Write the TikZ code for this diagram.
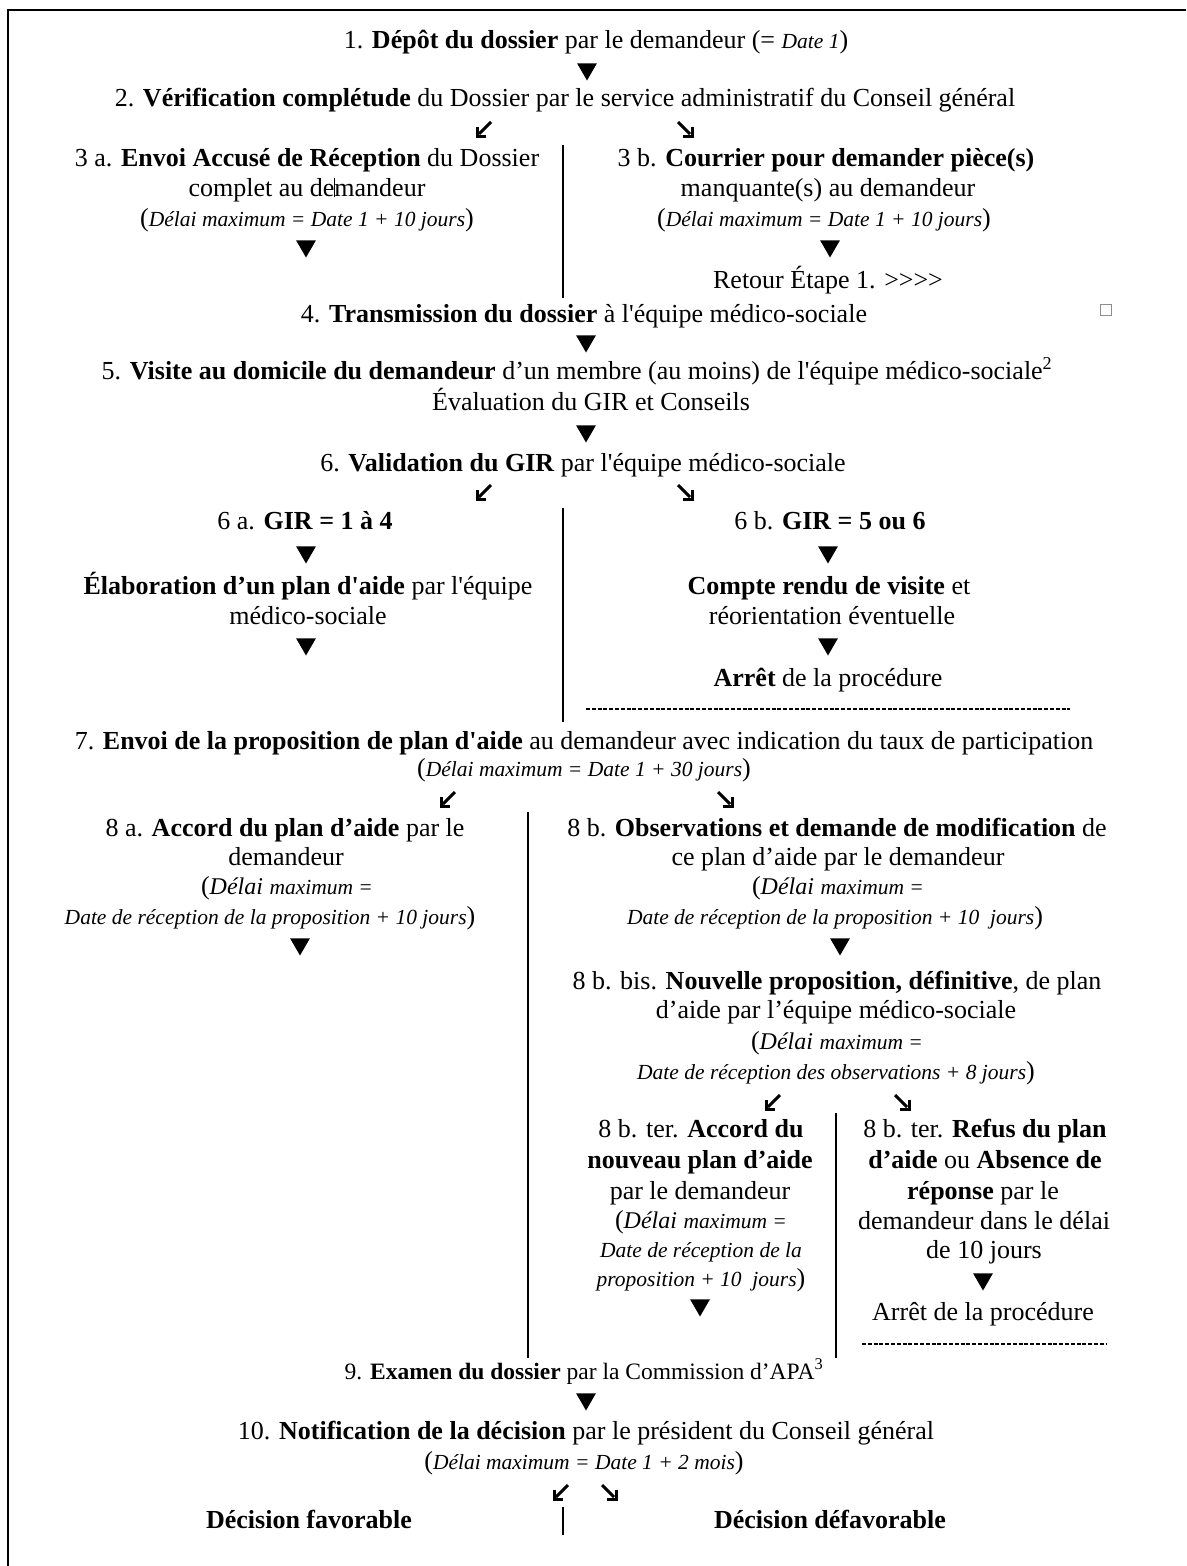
\documentclass[tikz,border=0pt]{standalone}
\usepackage{fontspec}
\setmainfont{Liberation Serif}[Ligatures=TeXOff]
\usetikzlibrary{shapes.geometric}
\newcommand{\itsm}{\fontsize{21.5}{21.5}\selectfont\itshape}
\newcommand{\itbg}{\fontsize{24}{24}\selectfont\itshape}
\newcommand{\dlt}[1]{({\itsm #1})}
\tikzset{
  txt/.style={inner sep=0pt, font=\fontsize{26}{30}\selectfont, text height=18pt, text depth=6pt},
  smalltxt/.style={txt, font=\fontsize{23.5}{27}\selectfont},
  tri/.style={regular polygon, regular polygon sides=3, regular polygon rotate=180, fill=black, inner sep=0pt, minimum size=23pt},
  pageframe/.style={line width=2pt},
  colsep/.style={line width=1.2pt},
  dashsep/.style={line width=1.4pt, dash pattern=on 4pt off 1.8pt},
  dia/.style={line width=3pt},
  sq/.style={draw=black!45, line width=0.8pt, minimum size=11pt, inner sep=0pt},
  sw/.pic={\draw[dia] (7,-7) -- (-5,5); \draw[dia,line join=miter] (-7,-2) -- (-7,7) -- (2,7);},
  se/.pic={\draw[dia] (-7,-7) -- (5,5); \draw[dia,line join=miter] (7,-2) -- (7,7) -- (-2,7);}
}
\begin{document}
\begin{tikzpicture}[x=1pt,y=-1pt]
\useasboundingbox (0,0) rectangle (1186,1566);
\draw[pageframe] (1186,10) -- (8,10) -- (8,1566);

% 1 - 2
\node[txt] (n1) at (596,42) {1. \textbf{Dépôt du dossier} par le demandeur (= {\itsm Date 1})};
\node[tri] (a1) at (587,69) {};
\node[txt] (n2) at (565,100) {2. \textbf{Vérification complétude} du Dossier par le service administratif du Conseil général};
\pic at (484,129) {sw};
\pic at (685,129) {se};
\coordinate (v1t) at (563,145);
\coordinate (v1b) at (563,298);
\draw[colsep] (v1t) -- (v1b);

% 3a
\node[txt] (n3a1) at (307,160) {3 a. \textbf{Envoi Accusé de Réception} du Dossier};
\node[txt] (n3a2) at (307,190) {complet au de\rlap{\rule[-1pt]{0.7pt}{19pt}}mandeur};
\node[txt] (n3a3) at (307,220) {\dlt{Délai maximum = Date 1 + 10 jours}};
\node[tri] (a3a) at (306,246) {};
% 3b
\node[txt] (n3b1) at (826,160) {3 b. \textbf{Courrier pour demander pièce(s)}};
\node[txt] (n3b2) at (828,190) {manquante(s) au demandeur};
\node[txt] (n3b3) at (824,220) {\dlt{Délai maximum = Date 1 + 10 jours}};
\node[tri] (a3b) at (830,246) {};
\node[txt] (n3b4) at (828,282) {Retour Étape 1. >>>>};
\node[sq] (box) at (1106,310) {};

% 4 - 6
\node[txt] (n4) at (584,316) {4. \textbf{Transmission du dossier} à l'équipe médico-sociale};
\node[tri] (a4) at (586,341) {};
\node[txt] (n5a) at (577,373) {5. \textbf{Visite au domicile du demandeur} d’un membre (au moins) de l'équipe médico-sociale\textsuperscript{2}};
\node[txt] (n5b) at (591,404) {Évaluation du GIR et Conseils};
\node[tri] (a5) at (586,431) {};
\node[txt] (n6) at (583,465) {6. \textbf{Validation du GIR} par l'équipe médico-sociale};
\pic at (484,492) {sw};
\pic at (685,492) {se};
\coordinate (v2t) at (563,508);
\coordinate (v2b) at (563,722);
\draw[colsep] (v2t) -- (v2b);

% 6a
\node[txt] (n6a1) at (305,523) {6 a. \textbf{GIR = 1 à 4}};
\node[tri] (a6a1) at (306,552) {};
\node[txt] (n6a2) at (308,588) {\textbf{Élaboration d’un plan d'aide} par l'équipe};
\node[txt] (n6a3) at (308,618) {médico-sociale};
\node[tri] (a6a2) at (306,644) {};
% 6b
\node[txt] (n6b1) at (830,523) {6 b. \textbf{GIR = 5 ou 6}};
\node[tri] (a6b1) at (828,552) {};
\node[txt] (n6b2) at (829,588) {\textbf{Compte rendu de visite} et};
\node[txt] (n6b3) at (832,618) {réorientation éventuelle};
\node[tri] (a6b2) at (828,644) {};
\node[txt] (n6b4) at (828,680) {\textbf{Arrêt} de la procédure};
\coordinate (d1l) at (586,709);
\coordinate (d1r) at (1070,709);
\draw[dashsep] (d1l) -- (d1r);

% 7
\node[txt] (n7a) at (584,743) {7. \textbf{Envoi de la proposition de plan d'aide} au demandeur avec indication du taux de participation};
\node[txt] (n7b) at (584,770) {\dlt{Délai maximum = Date 1 + 30 jours}};
\pic at (448,799) {sw};
\pic at (725,799) {se};
\coordinate (v3t) at (528,812);
\coordinate (v3b) at (528,1358);
\draw[colsep] (v3t) -- (v3b);

% 8a
\node[txt] (n8a1) at (285,830) {8 a. \textbf{Accord du plan d’aide} par le};
\node[txt] (n8a2) at (286,859) {demandeur};
\node[txt] (n8a3) at (287,888) {({\itbg Délai} {\itsm maximum =}};
\node[txt] (n8a4) at (270,918) {{\itsm Date de réception de la proposition + 10 jours})};
\node[tri] (a8a) at (300,944) {};
% 8b
\node[txt] (n8b1) at (837,830) {8 b. \textbf{Observations et demande de modification} de};
\node[txt] (n8b2) at (838,859) {ce plan d’aide par le demandeur};
\node[txt] (n8b3) at (838,888) {({\itbg Délai} {\itsm maximum =}};
\node[txt] (n8b4) at (835,918) {{\itsm Date de réception de la proposition + 10\ \ jours})};
\node[tri] (a8b) at (840,944) {};
% 8b bis
\node[txt] (n8c1) at (837,983) {8 b. bis. \textbf{Nouvelle proposition, définitive}, de plan};
\node[txt] (n8c2) at (836,1012) {d’aide par l’équipe médico-sociale};
\node[txt] (n8c3) at (837,1043) {({\itbg Délai} {\itsm maximum =}};
\node[txt] (n8c4) at (836,1073) {{\itsm Date de réception des observations + 8 jours})};
\pic at (773,1102) {sw};
\pic at (902,1102) {se};
\coordinate (v4t) at (836,1113);
\coordinate (v4b) at (836,1358);
\draw[colsep] (v4t) -- (v4b);

% 8b ter left
\node[txt] (n8d1) at (701,1131) {8 b. ter. \textbf{Accord du}};
\node[txt] (n8d2) at (700,1162) {\textbf{nouveau plan d’aide}};
\node[txt] (n8d3) at (700,1193) {par le demandeur};
\node[txt] (n8d4) at (701,1222) {({\itbg Délai} {\itsm maximum =}};
\node[txt] (n8d5) at (701,1251) {{\itsm Date de réception de la}};
\node[txt] (n8d6) at (701,1280) {{\itsm proposition + 10\ \ jours})};
\node[tri] (a8d) at (700,1305) {};
% 8b ter right
\node[txt] (n8e1) at (985,1131) {8 b. ter. \textbf{Refus du plan}};
\node[txt] (n8e2) at (985,1162) {\textbf{d’aide} ou \textbf{Absence de}};
\node[txt] (n8e3) at (983,1193) {\textbf{réponse} par le};
\node[txt] (n8e4) at (984,1223) {demandeur dans le délai};
\node[txt] (n8e5) at (984,1252) {de 10 jours};
\node[tri] (a8e) at (983,1279) {};
\node[txt] (n8e6) at (983,1314) {Arrêt de la procédure};
\coordinate (d2l) at (862,1344);
\coordinate (d2r) at (1106,1344);
\draw[dashsep] (d2l) -- (d2r);

% 9 - 10
\node[smalltxt] (n9) at (584,1373) {9. \textbf{Examen du dossier} par la Commission d’APA\textsuperscript{3}};
\node[tri] (a9) at (586,1399) {};
\node[txt] (n10a) at (586,1433) {10. \textbf{Notification de la décision} par le président du Conseil général};
\node[txt] (n10b) at (584,1463) {\dlt{Délai maximum = Date 1 + 2 mois}};
\pic at (561,1492) {sw};
\pic at (609,1492) {se};
\coordinate (v5t) at (563,1507);
\coordinate (v5b) at (563,1535);
\draw[colsep] (v5t) -- (v5b);
\node[txt] (fav) at (309,1522) {\textbf{Décision favorable}};
\node[txt] (defav) at (830,1522) {\textbf{Décision défavorable}};
\end{tikzpicture}
\end{document}
